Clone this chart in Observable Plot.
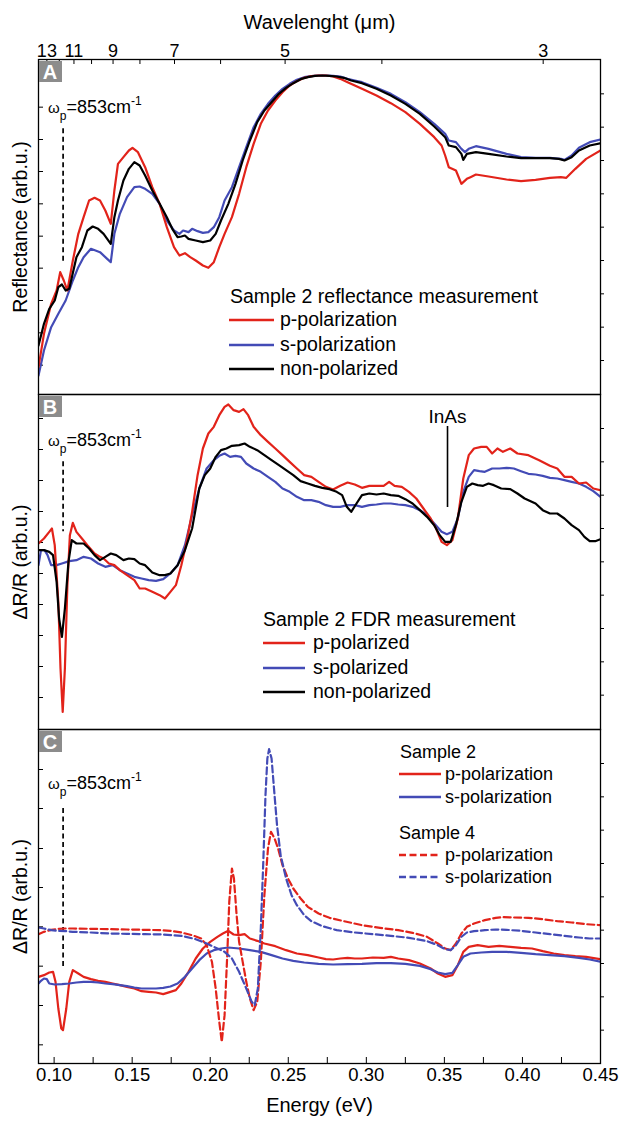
<!DOCTYPE html>
<html><head><meta charset="utf-8">
<script src="https://cdn.jsdelivr.net/npm/d3@7"></script>
<script src="https://cdn.jsdelivr.net/npm/@observablehq/plot@0.6"></script>
<style>
body{margin:0;background:#fff;}
#wrap{position:relative;width:625px;height:1124px;font-family:"Liberation Sans",Arial,Helvetica,sans-serif;overflow:hidden;background:#fff;}
.ov{position:absolute;white-space:nowrap;color:#000;line-height:1;}
.letter{position:absolute;background:#8c8c8c;color:#fff;font-weight:bold;font-size:20px;width:23px;height:21px;line-height:22px;text-align:center;}
</style></head><body><div id="wrap"></div><script>
// ---------- data (energy in eV, response in arb. units) ----------
const RED = "#e2231a", BLUE = "#434bb6", BLACK = "#000";
const HC = 1.23984; // eV*um
const wavelengthTicks = [3,4,5,6,7,8,9,10,11,12,13];
const wavelengthLabels = [13,11,9,7,5,3];
const energyTicks = [0.10,0.125,0.15,0.175,0.20,0.225,0.25,0.275,0.30,0.325,0.35,0.375,0.40,0.425,0.45];
const energyLabels = [0.10,0.15,0.20,0.25,0.30,0.35,0.40,0.45];
const omegaP = 853 * 1.23984e-4; // eV
const inasGap = 0.352;
const rightTicks = [100,200,300,400,500,600,700,800,900];
const leftTicksA = [86,183,280,377,473,570,667,763,860,957];
const leftTicksB = [93,186,279,372,465,558,651,744,837,930];
const leftTicksC = [56,174,292,410,528,645,765,882];
const yDomA = [-2,1003], yDomB = [-3,1002], yDomC = [0,1002];
const wpLineA = [795,390], wpLineB = [800,590], wpLineC = [765,285];
const inasLine = [906,663], inasLabelY = 935;

// Panel A: reflectance
const reflP = [[0.0900,80],[0.0935,180],[0.0981,270],[0.1016,310],[0.1039,365],[0.1062,340],[0.1085,310],[0.1120,400],[0.1155,480],[0.1189,530],[0.1224,580],[0.1259,588],[0.1294,580],[0.1328,550],[0.1363,510],[0.1386,610],[0.1409,690],[0.1444,710],[0.1479,730],[0.1502,738],[0.1537,725],[0.1583,680],[0.1629,620],[0.1676,570],[0.1722,500],[0.1768,440],[0.1803,415],[0.1838,422],[0.1872,410],[0.1907,400],[0.1953,385],[0.1988,378],[0.2023,395],[0.2058,440],[0.2092,480],[0.2139,530],[0.2185,600],[0.2231,680],[0.2278,750],[0.2324,810],[0.2370,850],[0.2417,880],[0.2463,905],[0.2509,925],[0.2555,938],[0.2602,948],[0.2648,953],[0.2694,955],[0.2741,955],[0.2787,952],[0.2833,945],[0.2880,935],[0.2926,925],[0.2972,915],[0.3065,895],[0.3157,872],[0.3250,845],[0.3343,810],[0.3435,770],[0.3482,745],[0.3505,715],[0.3528,680],[0.3574,670],[0.3609,630],[0.3644,645],[0.3667,650],[0.3702,658],[0.3783,652],[0.3898,643],[0.3991,638],[0.4084,642],[0.4176,648],[0.4246,650],[0.4281,648],[0.4339,675],[0.4408,705],[0.4500,730]];
const reflS = [[0.0900,55],[0.0935,130],[0.0981,200],[0.1027,240],[0.1074,280],[0.1120,340],[0.1155,380],[0.1189,410],[0.1236,435],[0.1294,425],[0.1340,405],[0.1363,395],[0.1386,480],[0.1421,540],[0.1467,590],[0.1514,620],[0.1548,622],[0.1583,615],[0.1629,600],[0.1676,570],[0.1722,520],[0.1768,490],[0.1803,480],[0.1826,490],[0.1861,485],[0.1884,495],[0.1919,488],[0.1953,483],[0.1988,485],[0.2023,500],[0.2058,530],[0.2092,580],[0.2139,620],[0.2185,680],[0.2231,740],[0.2278,800],[0.2324,840],[0.2370,870],[0.2417,895],[0.2463,915],[0.2509,930],[0.2555,942],[0.2602,950],[0.2648,953],[0.2694,955],[0.2741,955],[0.2787,954],[0.2833,952],[0.2880,945],[0.2926,940],[0.2972,935],[0.3065,918],[0.3157,900],[0.3250,875],[0.3343,845],[0.3435,810],[0.3505,780],[0.3528,760],[0.3574,755],[0.3609,735],[0.3632,725],[0.3656,735],[0.3702,743],[0.3783,735],[0.3898,720],[0.3991,710],[0.4084,708],[0.4176,708],[0.4246,705],[0.4269,702],[0.4315,715],[0.4362,738],[0.4431,755],[0.4500,763]];
const reflN = [[0.0900,145],[0.0935,210],[0.0969,255],[0.1004,280],[0.1027,320],[0.1050,328],[0.1074,310],[0.1097,315],[0.1143,410],[0.1178,440],[0.1213,490],[0.1247,502],[0.1282,495],[0.1317,480],[0.1363,450],[0.1386,530],[0.1409,580],[0.1444,640],[0.1479,675],[0.1514,695],[0.1548,685],[0.1583,655],[0.1629,610],[0.1676,570],[0.1722,530],[0.1757,495],[0.1791,470],[0.1815,472],[0.1838,475],[0.1861,465],[0.1907,460],[0.1953,455],[0.2000,460],[0.2035,480],[0.2069,520],[0.2116,570],[0.2162,630],[0.2208,700],[0.2254,760],[0.2301,815],[0.2347,850],[0.2393,875],[0.2440,900],[0.2486,918],[0.2532,932],[0.2579,944],[0.2625,950],[0.2671,954],[0.2718,955],[0.2764,954],[0.2810,952],[0.2856,948],[0.2903,940],[0.2972,932],[0.3065,915],[0.3157,895],[0.3250,870],[0.3343,840],[0.3435,802],[0.3505,770],[0.3528,745],[0.3574,740],[0.3609,720],[0.3621,702],[0.3644,720],[0.3702,725],[0.3783,720],[0.3898,712],[0.3991,707],[0.4084,707],[0.4176,707],[0.4234,705],[0.4269,700],[0.4315,710],[0.4362,730],[0.4431,745],[0.4500,752]];

// Panel B: FDR sample 2
const fdrP = [[0.0900,555],[0.0935,570],[0.0969,590],[0.0986,600],[0.1004,550],[0.1027,380],[0.1041,180],[0.1055,50],[0.1069,180],[0.1085,430],[0.1101,580],[0.1120,617],[0.1143,590],[0.1178,570],[0.1213,550],[0.1259,525],[0.1294,515],[0.1317,510],[0.1351,495],[0.1386,490],[0.1421,475],[0.1467,460],[0.1514,445],[0.1548,420],[0.1583,420],[0.1629,410],[0.1676,400],[0.1710,390],[0.1745,410],[0.1780,430],[0.1815,490],[0.1849,560],[0.1884,650],[0.1919,760],[0.1953,840],[0.1988,885],[0.2023,905],[0.2058,940],[0.2092,965],[0.2116,972],[0.2150,955],[0.2185,950],[0.2213,958],[0.2243,940],[0.2278,905],[0.2324,880],[0.2370,860],[0.2417,840],[0.2463,820],[0.2509,800],[0.2555,780],[0.2602,760],[0.2648,755],[0.2694,740],[0.2741,725],[0.2787,717],[0.2833,728],[0.2880,738],[0.2926,732],[0.2972,722],[0.3019,728],[0.3065,728],[0.3111,728],[0.3146,740],[0.3181,728],[0.3227,725],[0.3273,710],[0.3320,690],[0.3366,660],[0.3412,630],[0.3447,600],[0.3482,560],[0.3516,550],[0.3551,565],[0.3586,630],[0.3621,750],[0.3656,820],[0.3690,840],[0.3736,845],[0.3771,845],[0.3806,825],[0.3840,840],[0.3875,830],[0.3922,840],[0.3968,825],[0.4038,820],[0.4107,805],[0.4176,788],[0.4223,780],[0.4269,755],[0.4315,755],[0.4362,735],[0.4408,738],[0.4454,720],[0.4500,715]];
const fdrS = [[0.0900,490],[0.0916,535],[0.0939,535],[0.0958,520],[0.0981,490],[0.1016,490],[0.1050,495],[0.1097,502],[0.1143,505],[0.1189,515],[0.1236,510],[0.1282,495],[0.1328,485],[0.1375,490],[0.1421,475],[0.1467,465],[0.1514,455],[0.1560,450],[0.1606,445],[0.1653,443],[0.1699,448],[0.1745,465],[0.1791,490],[0.1838,550],[0.1884,640],[0.1930,720],[0.1977,780],[0.2023,805],[0.2058,818],[0.2092,825],[0.2127,815],[0.2162,818],[0.2197,815],[0.2231,795],[0.2278,780],[0.2324,770],[0.2370,755],[0.2417,740],[0.2463,720],[0.2509,710],[0.2555,695],[0.2602,685],[0.2648,685],[0.2694,680],[0.2741,670],[0.2787,665],[0.2833,665],[0.2880,670],[0.2926,670],[0.2972,665],[0.3019,670],[0.3065,672],[0.3111,675],[0.3157,675],[0.3204,672],[0.3250,670],[0.3296,665],[0.3343,655],[0.3389,640],[0.3435,615],[0.3482,590],[0.3516,583],[0.3551,590],[0.3586,630],[0.3621,710],[0.3656,755],[0.3690,775],[0.3725,772],[0.3759,770],[0.3806,780],[0.3852,780],[0.3898,782],[0.3945,780],[0.3991,772],[0.4038,764],[0.4084,762],[0.4130,758],[0.4176,752],[0.4223,750],[0.4269,745],[0.4315,740],[0.4362,735],[0.4408,725],[0.4454,712],[0.4500,695]];
const fdrN = [[0.0900,535],[0.0935,535],[0.0969,530],[0.0993,520],[0.1016,440],[0.1032,330],[0.1050,275],[0.1069,360],[0.1092,500],[0.1113,565],[0.1143,555],[0.1189,555],[0.1224,540],[0.1259,520],[0.1294,505],[0.1328,515],[0.1363,525],[0.1398,520],[0.1444,505],[0.1479,510],[0.1514,508],[0.1548,495],[0.1583,490],[0.1629,468],[0.1676,460],[0.1710,460],[0.1745,465],[0.1791,490],[0.1838,535],[0.1884,600],[0.1930,720],[0.1965,760],[0.2000,780],[0.2035,815],[0.2069,835],[0.2104,840],[0.2139,848],[0.2185,850],[0.2220,855],[0.2254,845],[0.2301,835],[0.2347,820],[0.2393,805],[0.2440,790],[0.2486,775],[0.2532,760],[0.2579,742],[0.2625,735],[0.2671,728],[0.2718,722],[0.2764,718],[0.2810,710],[0.2845,700],[0.2875,665],[0.2903,650],[0.2937,675],[0.2972,700],[0.3019,705],[0.3065,702],[0.3111,705],[0.3157,700],[0.3204,698],[0.3250,688],[0.3296,675],[0.3343,655],[0.3389,635],[0.3435,610],[0.3470,580],[0.3505,560],[0.3540,560],[0.3574,610],[0.3609,680],[0.3644,725],[0.3679,735],[0.3713,730],[0.3748,728],[0.3783,735],[0.3817,730],[0.3864,720],[0.3922,718],[0.3968,705],[0.4014,690],[0.4084,675],[0.4130,655],[0.4176,645],[0.4223,645],[0.4269,630],[0.4315,610],[0.4362,595],[0.4397,575],[0.4431,562],[0.4466,562],[0.4500,568]];

// Panel C: FDR sample 2 (solid) and sample 4 (dashed)
const s2P = [[0.0900,260],[0.0935,265],[0.0969,273],[0.0993,275],[0.1009,245],[0.1027,165],[0.1046,105],[0.1057,100],[0.1078,165],[0.1097,245],[0.1120,280],[0.1155,270],[0.1189,260],[0.1236,253],[0.1282,248],[0.1328,245],[0.1375,240],[0.1421,235],[0.1467,230],[0.1514,225],[0.1560,217],[0.1606,215],[0.1653,213],[0.1699,208],[0.1745,215],[0.1780,220],[0.1815,240],[0.1861,275],[0.1907,315],[0.1953,345],[0.2000,365],[0.2046,380],[0.2081,390],[0.2116,398],[0.2150,387],[0.2185,385],[0.2220,388],[0.2254,375],[0.2301,368],[0.2347,360],[0.2417,352],[0.2486,340],[0.2555,330],[0.2625,325],[0.2694,318],[0.2741,313],[0.2787,312],[0.2833,315],[0.2880,317],[0.2926,315],[0.2972,315],[0.3042,318],[0.3111,317],[0.3157,320],[0.3204,315],[0.3273,310],[0.3343,300],[0.3412,285],[0.3458,270],[0.3505,260],[0.3551,265],[0.3586,295],[0.3621,335],[0.3656,350],[0.3713,355],[0.3783,350],[0.3852,353],[0.3922,350],[0.3991,347],[0.4061,345],[0.4130,337],[0.4200,330],[0.4269,325],[0.4339,322],[0.4408,320],[0.4500,313]];
const s2S = [[0.0900,240],[0.0916,248],[0.0935,255],[0.0953,253],[0.0969,240],[0.1004,237],[0.1050,238],[0.1097,240],[0.1143,243],[0.1189,245],[0.1236,245],[0.1282,243],[0.1328,240],[0.1375,238],[0.1421,235],[0.1467,232],[0.1514,228],[0.1560,225],[0.1606,225],[0.1653,225],[0.1699,227],[0.1745,231],[0.1791,240],[0.1838,260],[0.1884,285],[0.1930,310],[0.1977,330],[0.2023,340],[0.2069,345],[0.2116,348],[0.2185,345],[0.2254,340],[0.2324,335],[0.2393,325],[0.2463,315],[0.2532,308],[0.2602,303],[0.2694,299],[0.2787,297],[0.2880,298],[0.2972,299],[0.3065,301],[0.3157,301],[0.3250,299],[0.3343,293],[0.3412,283],[0.3458,273],[0.3505,268],[0.3551,272],[0.3586,295],[0.3621,320],[0.3667,330],[0.3736,333],[0.3806,335],[0.3898,335],[0.3991,332],[0.4084,328],[0.4176,325],[0.4269,322],[0.4362,317],[0.4431,312],[0.4500,305]];
const s4P = [[0.0900,388],[0.0935,395],[0.0981,401],[0.1027,404],[0.1074,405],[0.1120,405],[0.1236,404],[0.1351,403],[0.1467,402],[0.1583,401],[0.1676,400],[0.1745,398],[0.1815,393],[0.1884,385],[0.1942,375],[0.1977,355],[0.2011,305],[0.2035,225],[0.2058,125],[0.2074,65],[0.2092,145],[0.2109,325],[0.2122,485],[0.2139,585],[0.2152,555],[0.2169,445],[0.2185,365],[0.2208,305],[0.2231,245],[0.2254,195],[0.2278,160],[0.2301,185],[0.2324,305],[0.2347,505],[0.2370,645],[0.2389,695],[0.2412,675],[0.2435,645],[0.2463,595],[0.2498,555],[0.2532,525],[0.2579,495],[0.2625,470],[0.2694,450],[0.2764,437],[0.2856,427],[0.2972,415],[0.3088,407],[0.3204,400],[0.3296,392],[0.3389,380],[0.3458,360],[0.3505,345],[0.3540,340],[0.3574,360],[0.3609,390],[0.3644,410],[0.3690,420],[0.3759,430],[0.3829,437],[0.3875,439],[0.3945,438],[0.4038,437],[0.4130,433],[0.4223,427],[0.4315,423],[0.4408,418],[0.4500,415]];
const s4S = [[0.0900,408],[0.0935,405],[0.0981,400],[0.1027,398],[0.1074,397],[0.1120,395],[0.1236,393],[0.1351,390],[0.1467,389],[0.1583,388],[0.1699,387],[0.1815,383],[0.1907,373],[0.1977,360],[0.2046,345],[0.2092,335],[0.2139,315],[0.2185,275],[0.2231,225],[0.2266,185],[0.2285,175],[0.2305,225],[0.2324,405],[0.2340,605],[0.2354,805],[0.2366,915],[0.2377,943],[0.2393,915],[0.2412,805],[0.2428,715],[0.2451,625],[0.2486,555],[0.2521,505],[0.2555,475],[0.2602,445],[0.2648,427],[0.2718,412],[0.2810,400],[0.2926,393],[0.3042,388],[0.3157,383],[0.3273,377],[0.3389,367],[0.3458,355],[0.3505,343],[0.3540,340],[0.3574,355],[0.3609,380],[0.3644,393],[0.3690,397],[0.3759,400],[0.3829,402],[0.3898,401],[0.3991,398],[0.4084,393],[0.4176,388],[0.4269,383],[0.4362,378],[0.4431,375],[0.4500,375]];

// ---------- drawing ----------
const FONT = '"Liberation Sans", Arial, Helvetica, sans-serif';
const wrap = document.getElementById("wrap");
const W = 625, ML = 38, MR = 25;
const xs = d => d[0], ys = d => d[1];

function curve(data, color, dashed) {
  return Plot.line(data, {x: xs, y: ys, stroke: color, strokeWidth: 2.2, clip: true,
    strokeDasharray: dashed ? "7,3.5" : null, strokeLinejoin: "round"});
}
function common(leftTicks, title, wpLine) {
  return [
    Plot.tickY(leftTicks, {y: d => d, insetRight: W - ML - MR - 5, stroke: "#000", strokeWidth: 1}),
    Plot.tickY(rightTicks, {y: d => d, insetLeft: W - ML - MR, insetRight: -4, stroke: "#000", strokeWidth: 1}),
    Plot.text([title], {text: d => d, frameAnchor: "left", textAnchor: "middle", rotate: -90, dx: -18, fontSize: 19.5}),
    Plot.ruleX([omegaP], {x: d => d, y1: wpLine[0], y2: wpLine[1], stroke: "#000", strokeWidth: 1.7, strokeDasharray: "5,3.5"})
  ];
}
function panel(height, mt, mb, yDom, marks) {
  return Plot.plot({
    width: W, height, marginTop: mt, marginBottom: mb, marginLeft: ML, marginRight: MR,
    x: {domain: [0.09, 0.45], axis: null},
    y: {domain: yDom, axis: null},
    style: {fontFamily: FONT, fontSize: "18px", background: "transparent", overflow: "visible"},
    marks
  });
}
function place(node, top) {
  node.style.position = "absolute"; node.style.left = "0px"; node.style.top = top + "px";
  wrap.appendChild(node);
}

const A = panel(394, 59, 0, yDomA, [
  ...common(leftTicksA, "Reflectance (arb.u.)", wpLineA),
  Plot.tickX(wavelengthTicks, {x: d => HC / d, insetBottom: 335 - 5, stroke: "#000", strokeWidth: 1}),
  Plot.text(wavelengthLabels, {x: d => HC / d, text: d => String(d), frameAnchor: "top", dy: -15, fontSize: 18}),
  Plot.text(["Wavelenght (\u03bcm)"], {text: d => d, frameAnchor: "top", dy: -45, fontSize: 20}),
  curve(reflS, BLUE), curve(reflP, RED), curve(reflN, BLACK),
  Plot.frame({stroke: "#000", strokeWidth: 1.3})
]);
const B = panel(335, 0, 0, yDomB, [
  ...common(leftTicksB, "\u0394R/R (arb.u.)", wpLineB),
  curve(fdrS, BLUE), curve(fdrP, RED), curve(fdrN, BLACK),
  Plot.ruleX([inasGap], {x: d => d, y1: inasLine[0], y2: inasLine[1], stroke: "#000", strokeWidth: 1.6}),
  Plot.text(["InAs"], {x: () => inasGap, y: () => inasLabelY, text: d => d, fontSize: 19}),
  Plot.frame({stroke: "#000", strokeWidth: 1.3})
]);
const C = panel(395, 0, 61, yDomC, [
  ...common(leftTicksC, "\u0394R/R (arb.u.)", wpLineC),
  Plot.tickX(energyTicks, {x: d => d, insetTop: 334 - 6, stroke: "#000", strokeWidth: 1}),
  Plot.text(energyLabels, {x: d => d, text: d => d3.format(".2f")(d), frameAnchor: "bottom", dy: 17, fontSize: 18.5}),
  Plot.text(["Energy (eV)"], {text: d => d, frameAnchor: "bottom", dy: 48, fontSize: 20}),
  curve(s2P, RED), curve(s2S, BLUE), curve(s4P, RED, true), curve(s4S, BLUE, true),
  Plot.frame({stroke: "#000", strokeWidth: 1.3})
]);
place(A, 0); place(B, 394); place(C, 729);

// ---------- overlays: panel letters, omega_p labels, legends ----------
function div(cls, html, left, top, extra) {
  const d = document.createElement("div");
  d.className = cls; d.innerHTML = html;
  d.style.left = left + "px"; d.style.top = top + "px";
  if (extra) Object.assign(d.style, extra);
  wrap.appendChild(d); return d;
}
[["A", 61], ["B", 396], ["C", 731]].forEach(([t, y]) => div("letter", t, 38.5, y));

const wpHTML = '<span style="font-size:15px">\u03c9</span><span style="font-size:12px;position:relative;top:7px">p</span>=853cm<span style="font-size:12px;position:relative;top:-8px">-1</span>';
[107, 440, 783].forEach(cy => div("ov", wpHTML, 48, cy - 9, {fontSize: "18px"}));

function legendLine(x1, x2, cy, color, dashed) {
  const svg = document.createElementNS("http://www.w3.org/2000/svg", "svg");
  svg.setAttribute("width", x2 - x1 + 4); svg.setAttribute("height", 8);
  svg.style.position = "absolute"; svg.style.left = (x1 - 2) + "px"; svg.style.top = (cy - 4) + "px";
  const l = document.createElementNS("http://www.w3.org/2000/svg", "line");
  l.setAttribute("x1", 2); l.setAttribute("x2", x2 - x1 + 2); l.setAttribute("y1", 4); l.setAttribute("y2", 4);
  l.setAttribute("stroke", color); l.setAttribute("stroke-width", 2.5);
  if (dashed) l.setAttribute("stroke-dasharray", "7,3.5");
  svg.appendChild(l); wrap.appendChild(svg);
}
function legend(titleRows, rows, lx1, lx2, tx, fs) {
  titleRows.forEach(([t, x, cy]) => div("ov", t, x, cy - 0.49 * fs, {fontSize: fs + "px"}));
  rows.forEach(([label, color, dashed, cy]) => {
    legendLine(lx1, lx2, cy, color, dashed);
    div("ov", label, tx, cy - 0.49 * fs, {fontSize: fs + "px"});
  });
}
legend([["Sample 2 reflectance measurement", 230, 297]],
  [["p-polarization", RED, false, 320], ["s-polarization", BLUE, false, 345], ["non-polarized", BLACK, false, 369]],
  229, 274, 280, 19.5);
legend([["Sample 2 FDR measurement", 263, 620]],
  [["p-polarized", RED, false, 643], ["s-polarized", BLUE, false, 668], ["non-polarized", BLACK, false, 692]],
  263, 305, 313, 19.5);
legend([["Sample 2", 400, 752], ["Sample 4", 399, 833]],
  [["p-polarization", RED, false, 774], ["s-polarization", BLUE, false, 797], ["p-polarization", RED, true, 855], ["s-polarization", BLUE, true, 877]],
  399, 441, 445, 18);
</script></body></html>
